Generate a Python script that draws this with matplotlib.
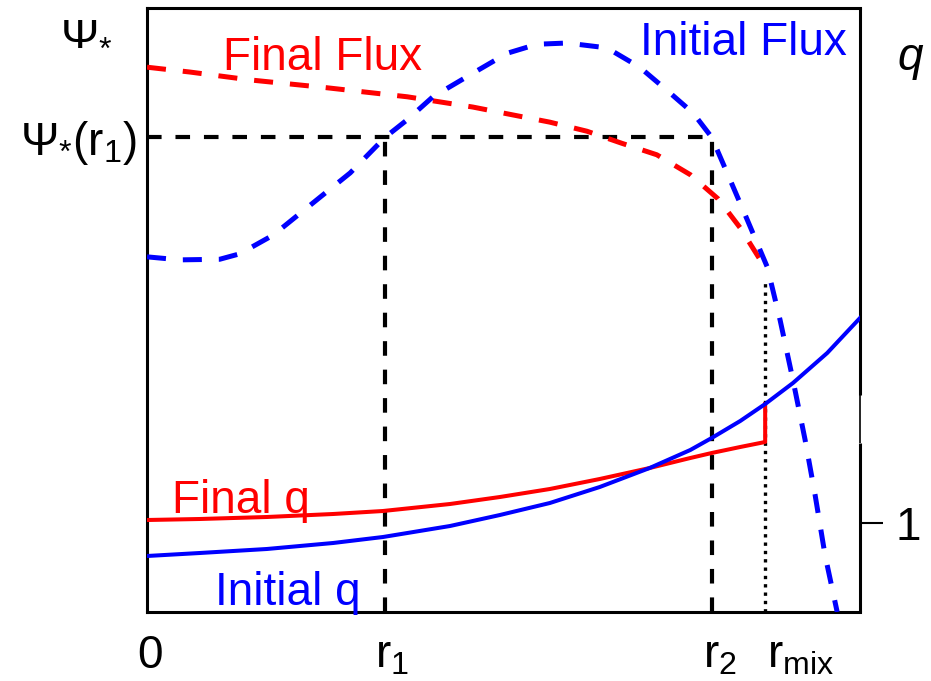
import matplotlib.pyplot as plt

plt.rcParams['font.family'] = ['Liberation Sans', 'DejaVu Sans']
plt.rcParams['mathtext.default'] = 'regular'
plt.rcParams['lines.scale_dashes'] = False

# radial positions (0 = centre, 1 = edge of the box)
r1, r2, rmix = 0.334, 0.792, 0.867
psi_r1 = 0.786

# helical flux before reconnection
r_flux_init = [0.000, 0.046, 0.102, 0.130, 0.177, 0.243, 0.285, 0.334, 0.365, 0.401,
               0.457, 0.505, 0.547, 0.589, 0.645, 0.691, 0.729, 0.766, 0.792, 0.818,
               0.842, 0.870, 0.888, 0.906, 0.923, 0.937, 0.951, 0.968]
psi_init = [0.588, 0.583, 0.584, 0.593, 0.624, 0.687, 0.727, 0.786, 0.815, 0.853,
            0.892, 0.925, 0.940, 0.942, 0.934, 0.902, 0.864, 0.826, 0.786, 0.715,
            0.649, 0.571, 0.483, 0.384, 0.285, 0.194, 0.094, 0.000]

# helical flux after reconnection (ends at r_mix)
r_flux_final = [0.000, 0.060, 0.144, 0.252, 0.365, 0.457, 0.513, 0.565, 0.617, 0.666,
                0.715, 0.762, 0.801, 0.832, 0.867]
psi_final = [0.902, 0.894, 0.881, 0.868, 0.853, 0.836, 0.823, 0.811, 0.796, 0.776,
             0.757, 0.724, 0.684, 0.636, 0.570]

# safety factor profiles
r_q_init = [0.000, 0.074, 0.168, 0.261, 0.331, 0.425, 0.495, 0.565, 0.635, 0.705,
            0.762, 0.792, 0.832, 0.867, 0.906, 0.954, 1.000]
q_init = [0.67, 0.70, 0.74, 0.80, 0.86, 0.97, 1.08, 1.20, 1.36, 1.55,
          1.73, 1.85, 2.02, 2.19, 2.40, 2.70, 3.05]

r_q_final = [0.000, 0.074, 0.168, 0.261, 0.331, 0.425, 0.495, 0.565, 0.635, 0.705,
             0.762, 0.792, 0.832, 0.867, 0.867]
q_final = [1.03, 1.04, 1.06, 1.09, 1.12, 1.19, 1.26, 1.34, 1.44, 1.55,
           1.65, 1.70, 1.76, 1.81, 2.19]

FS = 33
RED = '#ff0000'
BLUE = '#0000ff'

fig = plt.figure(figsize=(9.31, 6.81), dpi=100)
ax = fig.add_axes([147 / 931, 69 / 681, 713 / 931, 604 / 681])
ax.set_xlim(0, 1)
ax.set_ylim(0, 1)

# reference lines at r1, r2, r_mix
kw = dict(color='black', lw=3.0, dashes=(10.5, 10.0), zorder=2)
ax.plot([0, r2], [psi_r1, psi_r1], **kw)
ax.plot([r1, r1], [0, psi_r1], **kw)
ax.plot([r2, r2], [0, psi_r1], **kw)
ax.plot([rmix, rmix], [0, psi_final[-1] - 0.022], color='black', lw=2.4,
        dashes=(2.4, 3.6), zorder=2)

# flux curves
ax.plot(r_flux_final, psi_final, color=RED, lw=3.6, dashes=(13.7, 12.2), zorder=3)
ax.plot(r_flux_init, psi_init, color=BLUE, lw=3.6, dashes=(13.7, 12.2), zorder=4)

# q on its own scale, tick at q = 1
ax2 = ax.twinx()
ax2.set_ylim(0.11, 6.15)
ax2.plot(r_q_final, q_final, color=RED, lw=2.9, zorder=3)
ax2.plot(r_q_init, q_init, color=BLUE, lw=2.9, zorder=4)
ax2.set_yticks([1])
ax2.set_yticklabels(['1'], fontsize=FS)
ax2.tick_params(axis='y', length=16.5, width=1.5, direction='out', pad=9)
for s in ax2.spines.values():
    s.set_visible(False)

for s in ['left', 'top', 'bottom']:
    ax.spines[s].set_linewidth(2.2)
ax.spines['right'].set_visible(False)
# right edge drawn by hand, with its thin stretch
for y0, y1, w in [(0, 0.280, 2.2), (0.280, 0.359, 1.2), (0.359, 1, 2.2)]:
    ax.plot([1, 1], [y0, y1], color='black', lw=w, transform=ax.transAxes,
            clip_on=False, solid_capstyle='butt', zorder=5)

ax.set_xticks([])
ax.set_yticks([psi_r1])
ax.set_yticklabels(['Ψ$_{{*}}$(r$_1$)'], fontsize=FS)
ax.tick_params(axis='y', length=0, pad=7)

# radius labels under the box
for x, s, ha in [(0.004, '0', 'center'), (r1 + 0.010, 'r$_1$', 'center'),
                 (r2 + 0.012, 'r$_2$', 'center'), (rmix + 0.002, 'r$_{mix}$', 'left')]:
    ax.text(x, -0.0927, s, fontsize=FS, ha=ha, va='baseline', clip_on=False)

ax.text(-0.122, 0.939, 'Ψ$_{{*}}$', fontsize=FS, va='baseline', transform=ax.transAxes)
ax.text(1.053, 0.897, 'q', fontsize=FS, fontstyle='italic', va='baseline',
        transform=ax.transAxes)

ax.text(0.107, 0.897, 'Final Flux', color=RED, fontsize=FS, va='baseline')
ax.text(0.691, 0.922, 'Initial Flux', color=BLUE, fontsize=FS, va='baseline')
ax.text(0.035, 0.164, 'Final q', color=RED, fontsize=FS, va='baseline')
ax.text(0.095, 0.0116, 'Initial q', color=BLUE, fontsize=FS, va='baseline')

fig.savefig('out.png', dpi=100)
